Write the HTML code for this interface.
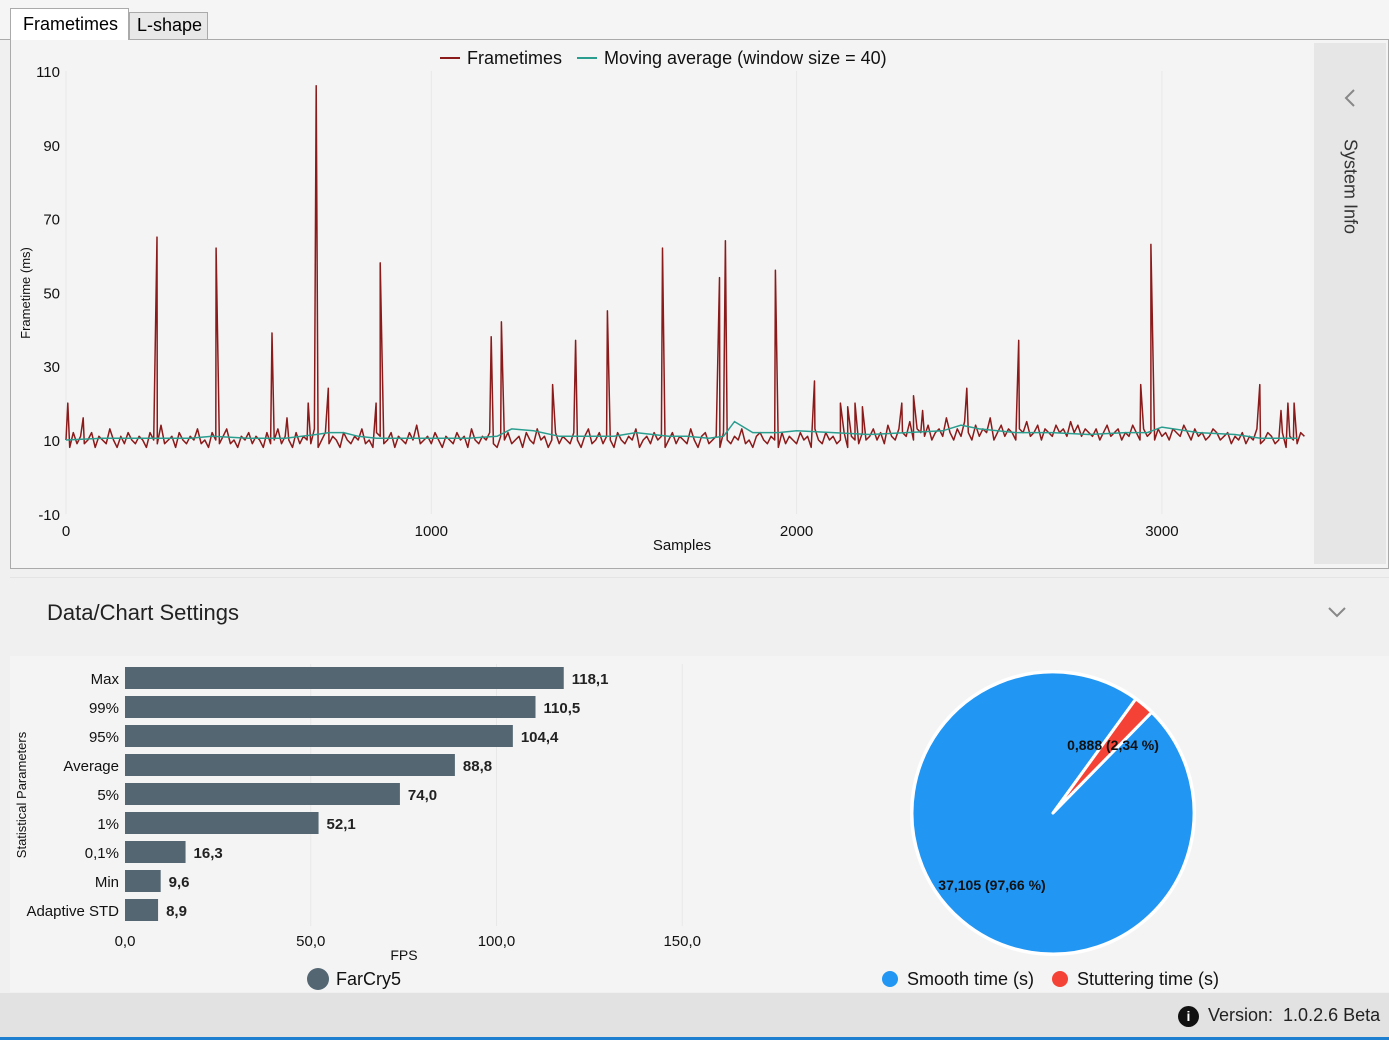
<!DOCTYPE html>
<html><head><meta charset="utf-8"><style>
body{margin:0;width:1389px;height:1040px;background:#f0f0f0;font-family:"Liberation Sans",sans-serif;overflow:hidden;position:relative}
div{box-sizing:border-box}
.abs{position:absolute}
</style></head><body>
<div class="abs" style="left:0;top:0;width:1389px;height:40px;background:#f5f5f5;border-bottom:1px solid #aaa"></div>
<div class="abs" style="left:10px;top:8px;width:119px;height:33px;background:#fff;border:1px solid #aaa;border-bottom:none;font-size:18px;padding:5px 0 0 12px">Frametimes</div>
<div class="abs" style="left:129px;top:12px;width:79px;height:28px;background:#e8e8e8;border:1px solid #aaa;font-size:18px;padding:2px 0 0 7px">L-shape</div>
<div class="abs" style="left:10px;top:40px;width:1379px;height:529px;background:#f4f4f4;border:1px solid #aaa;border-top:none"></div>
<div class="abs" style="left:1314px;top:43px;width:72px;height:521px;background:#e6e6e6"></div>
<svg class="abs" style="left:1343px;top:88px" width="14" height="20"><polyline points="11,2 3,10 11,18" fill="none" stroke="#888" stroke-width="2"/></svg>
<div class="abs" style="left:1300px;top:176px;width:100px;transform:rotate(90deg);font-size:18px;color:#333;text-align:center">System Info</div>
<svg class="abs" style="left:0;top:0" width="1389" height="570" id="ft"></svg>
<div class="abs" style="left:10px;top:577px;width:1379px;height:71px;background:#f0f0f0;border-top:1px solid #e4e4e4"></div>
<div class="abs" style="left:47px;top:600px;font-size:22px;color:#222">Data/Chart Settings</div>
<svg class="abs" style="left:1327px;top:605px" width="20" height="14"><polyline points="2,3 10,11 18,3" fill="none" stroke="#888" stroke-width="2"/></svg>
<div class="abs" style="left:10px;top:656px;width:1379px;height:336px;background:#f4f4f4"></div>
<svg class="abs" style="left:0;top:650px" width="1389" height="345" id="bc"></svg>
<div class="abs" style="left:0;top:993px;width:1389px;height:47px;background:#e2e2e2;border-bottom:3px solid #1e7fd0"></div>
<div class="abs" style="left:1178px;top:1006px;width:21px;height:21px;border-radius:50%;background:#111;color:#fff;font-weight:bold;font-size:14px;text-align:center;line-height:21px">i</div>
<div class="abs" style="left:1208px;top:1005px;font-size:18px;color:#222">Version:&nbsp; 1.0.2.6 Beta</div>
<script>
const NS="http://www.w3.org/2000/svg";
function mk(p,t,a,txt){const e=document.createElementNS(NS,t);for(const k in a)e.setAttribute(k,a[k]);if(txt!==undefined)e.textContent=txt;p.appendChild(e);return e;}
// ---- frametime data ----
const baseStep=10;
const baseValues=[
10,8,12,9,11,9,10,12,8,11,10,9,13,10,8,11,9,12,10,9,
11,10,8,12,10,9,14,9,10,11,8,12,10,9,11,10,13,9,10,8,
12,10,9,11,13,9,10,8,11,10,12,9,11,10,8,12,9,10,13,9,
11,10,8,12,9,11,10,9,13,8,10,12,9,11,10,8,12,10,9,11,
10,13,9,10,8,12,11,9,10,12,8,11,10,9,12,10,14,9,10,11,
9,12,10,8,11,10,9,12,10,11,8,13,10,9,11,10,12,9,8,11,
10,12,9,10,11,8,12,10,9,13,10,11,8,10,12,9,11,10,9,12,
10,8,11,13,9,10,12,9,11,10,8,12,10,9,11,10,13,8,10,11,
9,12,10,11,8,10,12,9,11,10,9,13,10,8,11,12,9,10,11,8,
12,10,9,11,10,13,9,10,8,11,12,10,9,11,10,8,12,9,11,10,
9,12,10,11,8,13,10,9,12,10,11,9,10,12,8,11,10,9,12,10,
11,13,10,12,9,14,11,10,13,12,11,15,10,13,12,11,14,10,12,13,
11,16,12,10,13,11,15,12,10,14,11,13,12,16,10,12,14,11,13,12,
10,13,12,15,11,12,14,10,13,12,11,14,12,13,11,15,12,14,11,13,
12,11,13,10,12,14,11,12,13,10,12,11,14,12,10,13,11,12,10,13,
11,12,10,13,12,11,14,12,10,13,11,12,10,11,13,12,10,11,12,9,
11,10,12,9,11,10,13,9,10,12,11,9,10,12,8,11,10,9,12,11];
const spikeSamples=[5,47,249,411,564,605,663,685,718,849,860,1164,1192,1332,1395,1482,1633,1789,1805,1942,2049,2120,2140,2160,2180,2288,2320,2345,2466,2608,2942,2970,3268,3326,3345,3362];
const spikeValues=[20,16,65,62,39,16,20,106,24,20,58,38,42,25,37,45,62,54,64,56,26,20,19,20,19,20,22,18,24,37,25,63,25,18,20,20];
const maSamples=[0,100,200,340,400,500,600,685,720,760,800,850,950,1100,1180,1220,1280,1350,1400,1500,1560,1650,1700,1760,1800,1830,1880,1950,2000,2100,2200,2300,2400,2450,2500,2600,2700,2800,2900,2960,3000,3100,3200,3270,3300,3370];
const maValues=[10,10.5,10.5,10.5,11,10.5,10.5,11.5,12,12,11,10.5,10.5,10.5,11,13,12.5,11,11,11,12,11,11,10.5,11,15,12,12,12.5,12,11.5,12,12.5,14,13,12,12,11.5,12,12,13.5,12,11.5,10.5,10.5,10.5];
const yTicks=[-10,10,30,50,70,90,110];
const xTicks=[0,1000,2000,3000];
const ft=document.getElementById('ft');
const fx=s=>66+s*0.3653, fy=v=>440-(v-10)*3.69;
xTicks.forEach(t=>{const g=mk(ft,'line',{x1:fx(t),x2:fx(t),y1:71,y2:514,stroke:'#e8e8e8'});
 const l=mk(ft,'text',{x:fx(t),y:536,'font-size':15,'text-anchor':'middle',fill:'#111'},t);});
yTicks.forEach(t=>{const l=mk(ft,'text',{x:60,y:fy(t)+6,'font-size':15,'text-anchor':'end',fill:'#111'},t);});
let pts=baseValues.map((v,i)=>[i*baseStep,v]);
spikeSamples.forEach((s,i)=>{pts.push([s,spikeValues[i]]);});
pts.sort((a,b)=>a[0]-b[0]);
const ftl=mk(ft,'polyline',{points:pts.map(p=>fx(p[0]).toFixed(1)+','+fy(p[1]).toFixed(1)).join(' '),fill:'none',stroke:'#8b1a1a','stroke-width':1.5,'stroke-linejoin':'round'});

const mal=mk(ft,'polyline',{points:maSamples.map((s,i)=>fx(s).toFixed(1)+','+fy(maValues[i]).toFixed(1)).join(' '),fill:'none',stroke:'#2a9d8f','stroke-width':1.5});

let e;
e=mk(ft,'line',{x1:440,x2:460,y1:58,y2:58,stroke:'#8b1a1a','stroke-width':2});
e=mk(ft,'text',{x:467,y:64,'font-size':18,fill:'#111'},'Frametimes');
e=mk(ft,'line',{x1:577,x2:597,y1:58,y2:58,stroke:'#2a9d8f','stroke-width':2});
e=mk(ft,'text',{x:604,y:64,'font-size':18,fill:'#111'},'Moving average (window size = 40)');
e=mk(ft,'text',{x:682,y:550,'font-size':15,'text-anchor':'middle',fill:'#111'},'Samples');
e=mk(ft,'text',{x:0,y:0,'font-size':13,'text-anchor':'middle',fill:'#111',transform:'translate(30,293) rotate(-90)'},'Frametime (ms)');
// ---- bar chart ----
const barLabels=['Max','99%','95%','Average','5%','1%','0,1%','Min','Adaptive STD'];
const barValues=[118.1,110.5,104.4,88.8,74.0,52.1,16.3,9.6,8.9];
const fpsTicks=[0,50,100,150];
const bc=document.getElementById('bc');
const bx=v=>125+v*3.715;
fpsTicks.forEach(t=>{if(t>0){e=mk(bc,'line',{x1:bx(t),x2:bx(t),y1:14,y2:276,stroke:'#e8e8e8'});}
 e=mk(bc,'text',{x:bx(t),y:296,'font-size':15,'text-anchor':'middle',fill:'#111'},t.toFixed(1).replace('.',','));});
barValues.forEach((v,i)=>{const y=28+i*29;
 e=mk(bc,'rect',{x:bx(0),y:y-11,width:bx(v)-bx(0),height:22,fill:'#536672'});
 e=mk(bc,'text',{x:119,y:y+6,'font-size':15,'text-anchor':'end',fill:'#111'},barLabels[i]);
 e=mk(bc,'text',{x:bx(v)+8,y:y+6,'font-size':15,'font-weight':'bold',fill:'#222'},v.toFixed(1).replace('.',','));});
e=mk(bc,'text',{x:404,y:310,'font-size':14,'text-anchor':'middle',fill:'#111'},'FPS');
e=mk(bc,'text',{x:0,y:0,'font-size':13,'text-anchor':'middle',fill:'#111',transform:'translate(26,145) rotate(-90)'},'Statistical Parameters');
e=mk(bc,'circle',{cx:318,cy:329,r:11,fill:'#536672'});
e=mk(bc,'text',{x:336,y:335,'font-size':18,fill:'#111'},'FarCry5');
// ---- pie ----
const pieLabels=['Smooth time (s)','Stuttering time (s)'];
const pieValues=[37.105,0.888];
const pieColors=['#2196f3','#f44336'];
const cx=1053,cy=163,r=141;
const tot=pieValues[0]+pieValues[1];
e=mk(bc,'circle',{cx:cx,cy:cy,r:r+2,fill:'#fff'});
const stutAng=pieValues[1]/tot*Math.PI*2;
const s0=2*Math.PI*0.1, s1=s0+stutAng;
const P=a=>[cx+r*Math.sin(a),cy-r*Math.cos(a)];
function arc(a,b,col,nm){const p=P(a),q=P(b);const large=(b-a)>Math.PI?1:0;
 const el=mk(bc,'path',{d:`M${cx},${cy}L${p[0]},${p[1]}A${r},${r} 0 ${large} 1 ${q[0]},${q[1]}Z`,fill:col,stroke:'#fff','stroke-width':3,'stroke-linejoin':'round'});
 }
arc(s1,s0+2*Math.PI,pieColors[0],'pie-slice-smooth');
arc(s0,s1,pieColors[1],'pie-slice-stuttering');
e=mk(bc,'text',{x:1113,y:100,'font-size':14,'font-weight':'bold','text-anchor':'middle',fill:'#111'},'0,888 (2,34 %)');
e=mk(bc,'text',{x:992,y:240,'font-size':14,'font-weight':'bold','text-anchor':'middle',fill:'#111'},'37,105 (97,66 %)');
e=mk(bc,'circle',{cx:890,cy:329,r:8,fill:pieColors[0]});
e=mk(bc,'text',{x:907,y:335,'font-size':18,fill:'#111'},pieLabels[0]);
e=mk(bc,'circle',{cx:1060,cy:329,r:8,fill:pieColors[1]});
e=mk(bc,'text',{x:1077,y:335,'font-size':18,fill:'#111'},pieLabels[1]);
</script>
</body></html>
